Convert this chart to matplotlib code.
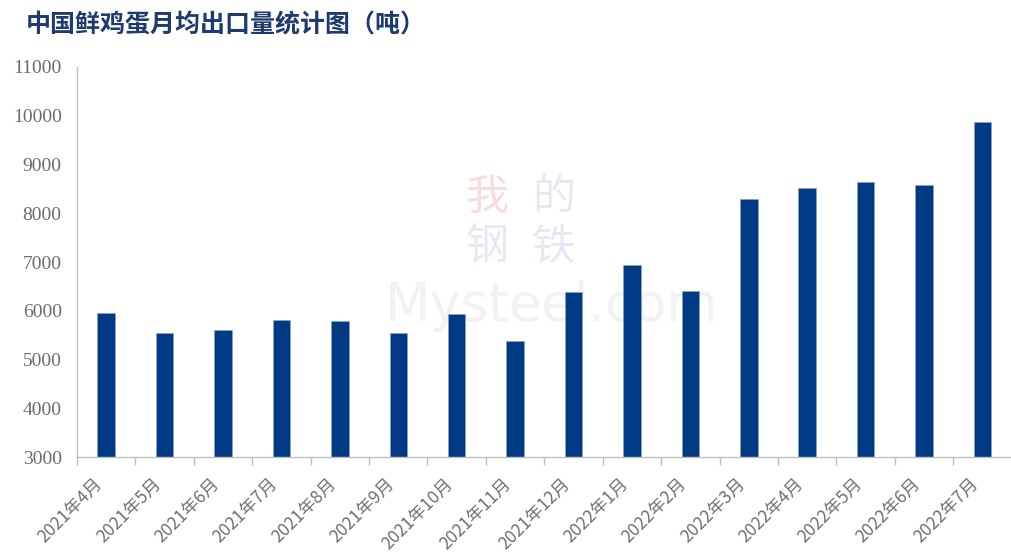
import matplotlib.pyplot as plt
import numpy as np

months = ['2021年4月', '2021年5月', '2021年6月', '2021年7月', '2021年8月', '2021年9月',
          '2021年10月', '2021年11月', '2021年12月', '2022年1月', '2022年2月', '2022年3月',
          '2022年4月', '2022年5月', '2022年6月', '2022年7月']
export_tons = [5950, 5540, 5600, 5820, 5780, 5540, 5930, 5390,
               6380, 6940, 6410, 8300, 8510, 8650, 8580, 9880]
yticks = [3000, 4000, 5000, 6000, 7000, 8000, 9000, 10000, 11000]

plt.rcParams['font.family'] = ['Noto Sans CJK SC', 'DejaVu Sans']

fig = plt.figure(figsize=(10.12, 5.56), dpi=100)
ax = fig.add_axes([0.0761, 0.178, 0.9235, 0.7015])

# faint watermark, kept under the bars
wm = dict(transform=fig.transFigure, ha='center', va='center', zorder=0.5, fontsize=31)
ax.text(0.481, 0.645, '我', color='#f8dcdc', **wm)
ax.text(0.547, 0.645, '的', color='#e6e9f2', **wm)
ax.text(0.481, 0.555, '钢', color='#e6e9f2', **wm)
ax.text(0.547, 0.555, '铁', color='#e6e9f2', **wm)
ax.text(0.545, 0.45, 'Mysteel.com', color='#f2f2f2', fontsize=38,
        family='DejaVu Sans', transform=fig.transFigure, ha='center', va='center', zorder=0.5)

x = np.arange(len(months))
ax.bar(x, np.array(export_tons) - 3000, bottom=3000, width=0.3,
       color='#003a84', edgecolor='#8fa6c8', linewidth=0.4, zorder=2)

ax.set_xlim(-0.5, len(months) - 0.5)
ax.set_ylim(3000, 11000)
ax.set_yticks(yticks)
ax.set_yticklabels([str(v) for v in yticks], family='Liberation Serif',
                   fontsize=14, color='#6b6b6b')
ax.tick_params(axis='y', length=0, pad=11)

ax.set_xticks(x)
ax.set_xticklabels(months, rotation=45, ha='right', fontsize=12.5, color='#707070')
ax.tick_params(axis='x', which='major', length=0, pad=13)
ax.set_xticks(np.arange(-0.5, len(months)), minor=True)
ax.tick_params(axis='x', which='minor', length=6, width=1, color='#bfbfbf', direction='out')

for s in ['top', 'right']:
    ax.spines[s].set_visible(False)
for s in ['left', 'bottom']:
    ax.spines[s].set_color('#bfbfbf')
    ax.spines[s].set_linewidth(1)

fig.text(0.025, 0.955, '中国鲜鸡蛋月均出口量统计图（吨）', fontsize=18, fontweight='bold',
         color='#1f3a6e', ha='left', va='center')

plt.savefig('out.png', dpi=100)
